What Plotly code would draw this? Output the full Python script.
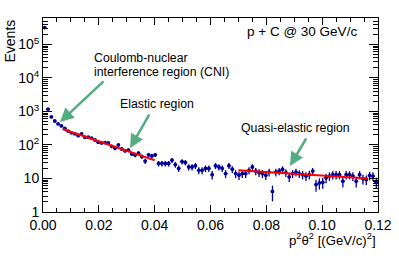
import numpy as np
import plotly.graph_objects as go

# ---- data ----
bin_width = 0.0012
events = [320000, 1170, 690, 520, 425, 370, 310, 260, 230, 215,
          190, 215, 170, 170, 160, 141, 120, 115, 118, 115,
          91, 80, 100, 76, 67, 70, 54, 50, 57, 45,
          33, 51, 47, 51, 28, 28, 28, 28, 35, 26,
          20, 32, 30, 22, 22, 24, 17.5, 17.5, 20, 20,
          13, 24, 22, 20, 14, 24, 19, 14, 12.6, 14,
          14, 17.5, 22, 16.6, 15, 14, 12.5, 15.5, 4.1, 15.5,
          16.6, 18.8, 15, 11.2, 14, 15.5, 14, 13, 11.8, 13,
          16.6, 6.6, 7.4, 7.7, 10.5, 11.8, 13, 13, 13, 8.3,
          13, 13, 11.8, 8.3, 13, 9.8, 9.3, 12.3, 11.8, 7.7]
bin_centers = (np.arange(len(events)) + 0.5) * bin_width

elastic_fit_x = [0.007, 0.040]
elastic_fit_y = [300, 35]
quasi_fit_x = [0.070, 0.1165]
quasi_fit_y = [17.5, 10]

y_tickvals = [1, 10, 100, 1000, 10000, 100000]
y_ticktext = ["1", "10", "10<sup>2</sup>", "10<sup>3</sup>", "10<sup>4</sup>", "10<sup>5</sup>"]

FONT = "Liberation Sans, Arial, Helvetica, sans-serif"
BLUE = "#000099"
GREEN = "#52ad80"

ev = np.array(events, dtype=float)
fig = go.Figure()
fig.add_trace(go.Scatter(
    x=bin_centers, y=ev, mode="markers",
    marker=dict(color=BLUE, size=3.8),
    error_y=dict(type="data", array=np.sqrt(ev), arrayminus=np.minimum(np.sqrt(ev), ev * 0.999),
                 color=BLUE, thickness=1.3, width=0),
    error_x=dict(type="constant", value=bin_width / 2, color=BLUE, thickness=1.3, width=0),
    showlegend=False, cliponaxis=False))
fig.add_trace(go.Scatter(x=elastic_fit_x, y=elastic_fit_y, mode="lines",
                         line=dict(color="red", width=2), showlegend=False))
fig.add_trace(go.Scatter(x=quasi_fit_x, y=quasi_fit_y, mode="lines",
                         line=dict(color="red", width=2), showlegend=False))

W, H = 399, 259
L, R, T, B = 43, 21, 18, 47
pw, ph = W - L - R, H - T - B


def px(xp):
    return (xp - L) / pw


def py(yp):
    return (H - B - yp) / ph


ann = []
ann.append(dict(text="p + C @ 30 GeV/c", x=px(359), y=py(32), xref="paper", yref="paper",
                xanchor="right", yanchor="middle", showarrow=False, font=dict(size=13.5)))
ann.append(dict(text="Coulomb-nuclear", x=px(92), y=py(58), xref="paper", yref="paper",
                xanchor="left", yanchor="middle", showarrow=False, font=dict(size=12.3)))
ann.append(dict(text="interference region (CNI)", x=px(92), y=py(72), xref="paper", yref="paper",
                xanchor="left", yanchor="middle", showarrow=False, font=dict(size=12.3)))
ann.append(dict(text="Elastic region", x=px(118), y=py(104), xref="paper", yref="paper",
                xanchor="left", yanchor="middle", showarrow=False, font=dict(size=12.3)))
ann.append(dict(text="Quasi-elastic region", x=px(239), y=py(128), xref="paper", yref="paper",
                xanchor="left", yanchor="middle", showarrow=False, font=dict(size=12.3)))
ann.append(dict(text="Events", x=px(9), y=1.0, xref="paper", yref="paper", textangle=-90,
                xanchor="center", yanchor="top", showarrow=False, font=dict(size=14)))
ann.append(dict(text="p<sup>2</sup>θ<sup>2</sup> [(GeV/c)<sup>2</sup>]", x=1.0, y=py(239),
                xref="paper", yref="paper", xanchor="right", yanchor="middle",
                showarrow=False, font=dict(size=13.2)))

# arrows (head position in data coords, tail offset in pixels)
for hx, hy, ax, ay in [(0.0061, 485, 45, -42), (0.0312, 81, 20, -35), (0.0885, 23.6, 17, -29)]:
    ann.append(dict(text="", x=hx, y=np.log10(hy), xref="x", yref="y", ax=ax, ay=ay,
                    showarrow=True, arrowhead=2, arrowsize=1.1, arrowwidth=2.5,
                    arrowcolor=GREEN, standoff=0))

fig.update_layout(
    width=W, height=H, margin=dict(l=L, r=R, t=T, b=B, autoexpand=False),
    paper_bgcolor="white", plot_bgcolor="white",
    font=dict(family=FONT, color="black", size=14),
    annotations=ann,
    xaxis=dict(range=[0, 0.12], dtick=0.02, tick0=0, tickformat=".2f", automargin=False,
               ticks="inside", ticklen=7, tickcolor="black", tickwidth=1,
               minor=dict(dtick=0.005, ticks="inside", ticklen=4, tickcolor="black", showgrid=False),
               showline=True, linecolor="black", linewidth=1, mirror="ticks",
               showgrid=False, zeroline=False, tickfont=dict(size=14)),
    yaxis=dict(type="log", range=[0, 5.79], tickvals=y_tickvals, ticktext=y_ticktext,
               automargin=False,
               ticks="inside", ticklen=9, tickcolor="black", tickwidth=1,
               minor=dict(dtick="D1", ticks="inside", ticklen=5, tickcolor="black", showgrid=False),
               showline=True, linecolor="black", linewidth=1, mirror="ticks",
               showgrid=False, zeroline=False, tickfont=dict(size=14)),
)

fig.write_html("out.html", config={"displayModeBar": False},
               post_script="document.body.style.margin='0px';document.body.style.overflow='hidden';")
